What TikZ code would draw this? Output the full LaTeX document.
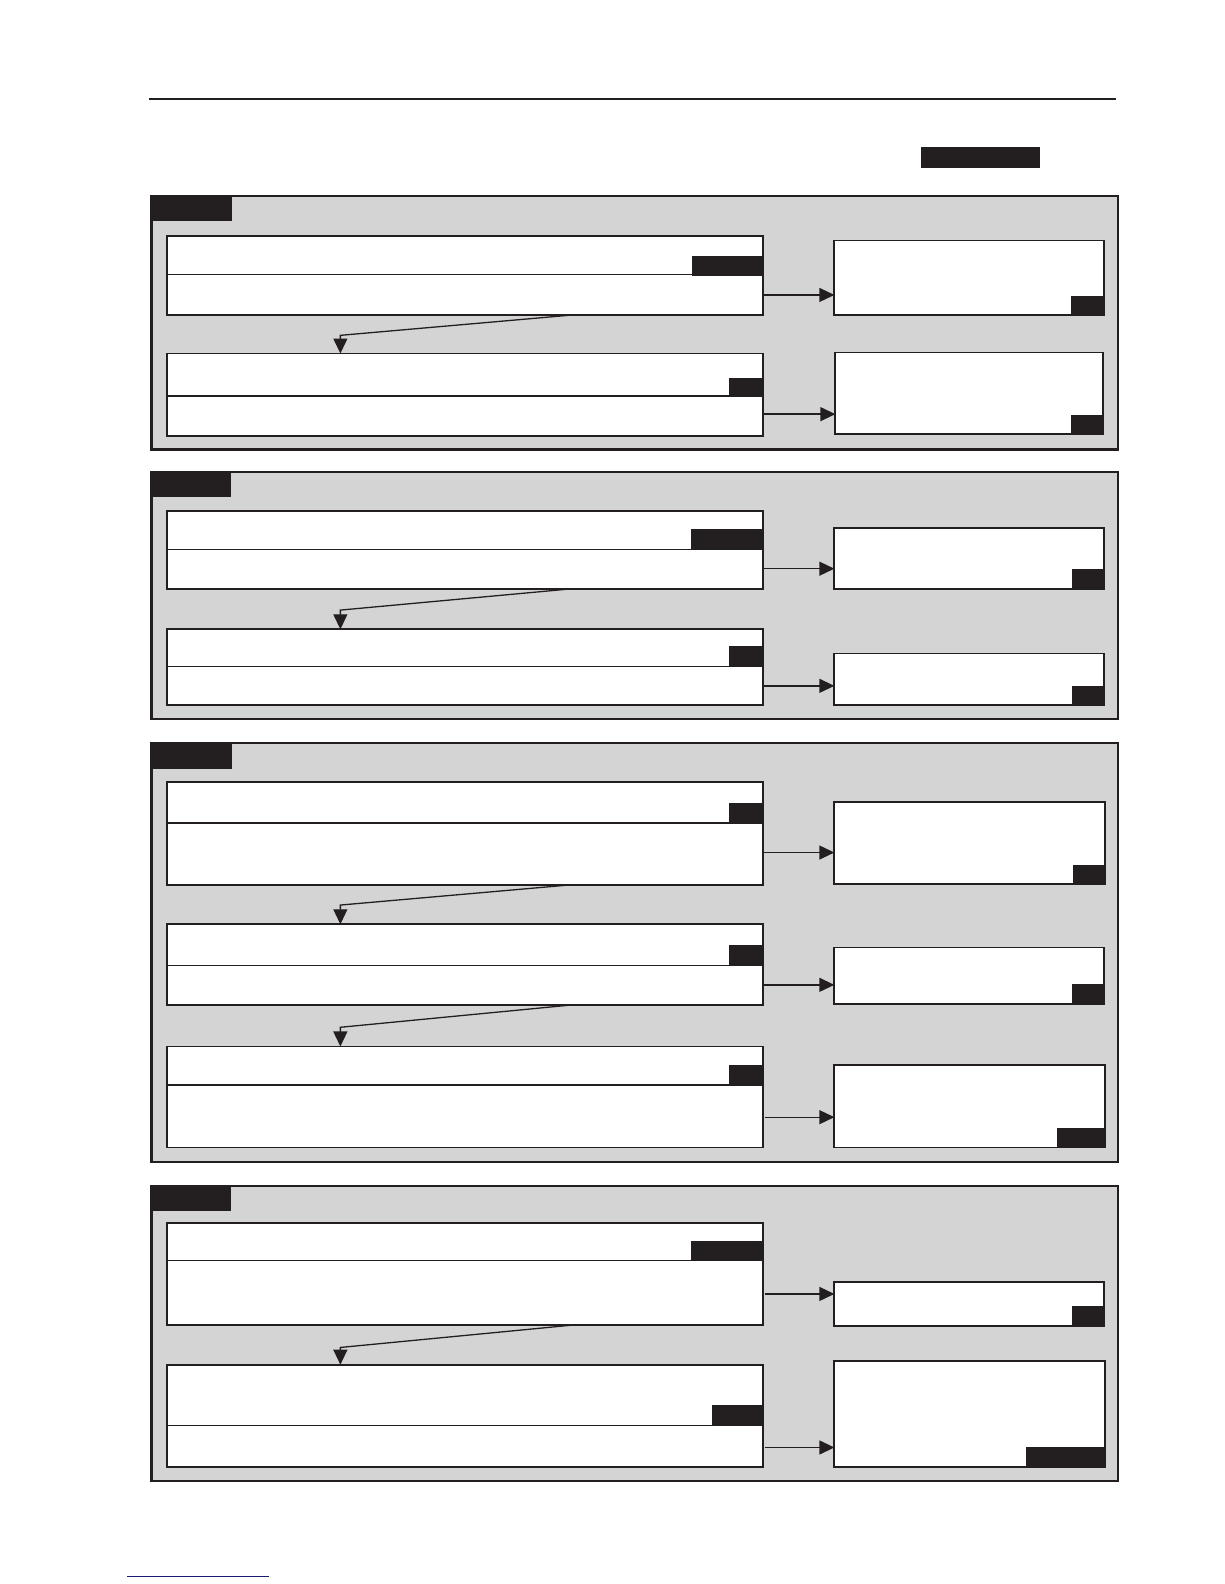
\documentclass[tikz,border=0pt]{standalone}
\usetikzlibrary{arrows.meta}
\definecolor{ink}{HTML}{231F20}
\definecolor{panelgray}{HTML}{D4D4D4}
\definecolor{linkblue}{HTML}{1A1A70}
\tikzset{
  panelbox/.style={draw=ink, fill=panelgray, line width=2.1pt, inner sep=0pt, outer sep=0pt},
  whitebox/.style={draw=ink, fill=white, line width=1.8pt, inner sep=0pt, outer sep=0pt},
  tagbox/.style={draw=none, fill=ink, inner sep=0pt, outer sep=0pt},
  divider/.style={draw=ink, line width=1.5pt},
  arr/.style={draw=ink, line width=1.3pt, -{Triangle[length=15pt,width=14pt]}},
}
% \mybox{style}{name}{x1}{y1}{x2}{y2}
\newcommand\mybox[6]{%
  \node[#1, minimum width={(#5-#3)*1.0101pt}, minimum height={(#6-#4)*1.0101pt}] (#2) at ({(#3+#5)/2},{(#4+#6)/2}) {};}
\begin{document}
\begin{tikzpicture}[x=1.0101pt,y=-1.0101pt]
\useasboundingbox[fill=white] (0,0) rectangle (1211.76,1568.16);
% header rule and tag
\coordinate (hruleL) at (148,98);
\coordinate (hruleR) at (1105,98);
\draw[ink, line width=1.1pt] (hruleL) -- (hruleR);
\mybox{tagbox}{toptag}{912}{146}{1030}{166}
% footer link line
\coordinate (linkL) at (126,1561);
\coordinate (linkR) at (266,1561);
\draw[linkblue, line width=1pt] (linkL) -- (linkR);

% ================= Panel 1 =================
\mybox{panelbox}{p1}{150}{194}{1107}{445}
\mybox{tagbox}{p1tab}{150}{194}{230}{219}
\mybox{whitebox}{p1l1}{165}{234}{755}{312}
\draw[divider] (p1l1.west |- 0,272) -- (p1l1.east |- 0,272);
\mybox{tagbox}{p1l1t}{685}{253}{755}{273}
\mybox{whitebox}{p1l2}{165}{350}{755}{432}
\draw[divider] (p1l2.west |- 0,392) -- (p1l2.east |- 0,392);
\mybox{tagbox}{p1l2t}{722}{374}{756}{393}
\mybox{whitebox}{p1r1}{826}{238}{1093}{312}
\mybox{tagbox}{p1r1t}{1060}{293}{1093}{312}
\mybox{whitebox}{p1r2}{827}{349}{1092}{430}
\mybox{tagbox}{p1r2t}{1060}{411}{1092}{430}
\draw[arr] (p1l1.east |- 0,292) -- (p1r1.west |- 0,292);
\draw[arr] (p1l2.east |- 0,410) -- (p1r2.west |- 0,410);
\draw[arr] ([xshift=404pt]p1l1.south west) -- ([xshift=173.7pt,yshift=18.2pt]p1l2.north west) -- ([xshift=173.7pt]p1l2.north west);

% ================= Panel 2 =================
\mybox{panelbox}{p2}{150}{467}{1107}{712}
\mybox{tagbox}{p2tab}{150}{467}{229}{492}
\mybox{whitebox}{p2l1}{165}{506}{755}{583}
\draw[divider] (p2l1.west |- 0,544) -- (p2l1.east |- 0,544);
\mybox{tagbox}{p2l1t}{684}{524}{755}{544}
\mybox{whitebox}{p2l2}{165}{623}{755}{698}
\draw[divider] (p2l2.west |- 0,660) -- (p2l2.east |- 0,660);
\mybox{tagbox}{p2l2t}{722}{640}{755}{660}
\mybox{whitebox}{p2r1}{826}{523}{1093}{583}
\mybox{tagbox}{p2r1t}{1061}{563}{1093}{583}
\mybox{whitebox}{p2r2}{826}{647}{1093}{698}
\mybox{tagbox}{p2r2t}{1061}{679}{1093}{698}
\draw[arr] (p2l1.east |- 0,563) -- (p2r1.west |- 0,563);
\draw[arr] (p2l2.east |- 0,679) -- (p2r2.west |- 0,679);
\draw[arr] ([xshift=404pt]p2l1.south west) -- ([xshift=173.7pt,yshift=19.2pt]p2l2.north west) -- ([xshift=173.7pt]p2l2.north west);

% ================= Panel 3 =================
\mybox{panelbox}{p3}{150}{736}{1107}{1150}
\mybox{tagbox}{p3tab}{150}{736}{230}{761}
\mybox{whitebox}{p3l1}{165}{774}{755}{876}
\draw[divider] (p3l1.west |- 0,815) -- (p3l1.east |- 0,815);
\mybox{tagbox}{p3l1t}{722}{795}{755}{815}
\mybox{whitebox}{p3l2}{165}{915}{755}{995}
\draw[divider] (p3l2.west |- 0,956) -- (p3l2.east |- 0,956);
\mybox{tagbox}{p3l2t}{722}{936}{755}{956}
\mybox{whitebox}{p3l3}{165}{1036}{755}{1136}
\draw[divider] (p3l3.west |- 0,1074) -- (p3l3.east |- 0,1074);
\mybox{tagbox}{p3l3t}{722}{1054}{755}{1074}
\mybox{whitebox}{p3r1}{826}{794}{1094}{875}
\mybox{tagbox}{p3r1t}{1062}{856}{1094}{875}
\mybox{whitebox}{p3r2}{826}{938}{1093}{994}
\mybox{tagbox}{p3r2t}{1061}{974}{1093}{994}
\mybox{whitebox}{p3r3}{826}{1054}{1094}{1136}
\mybox{tagbox}{p3r3t}{1046}{1117}{1094}{1136}
\draw[arr] (p3l1.east |- 0,844) -- (p3r1.west |- 0,844);
\draw[arr] (p3l2.east |- 0,975) -- (p3r2.west |- 0,975);
\draw[arr] ([xshift=2pt]p3l3.east |- 0,1106) -- (p3r3.west |- 0,1106);
\draw[arr] ([xshift=404pt]p3l1.south west) -- ([xshift=173.7pt,yshift=19.2pt]p3l2.north west) -- ([xshift=173.7pt]p3l2.north west);
\draw[arr] ([xshift=404pt]p3l2.south west) -- ([xshift=173.7pt,yshift=19.2pt]p3l3.north west) -- ([xshift=173.7pt]p3l3.north west);

% ================= Panel 4 =================
\mybox{panelbox}{p4}{150}{1174}{1107}{1466}
\mybox{tagbox}{p4tab}{150}{1174}{229}{1199}
\mybox{whitebox}{p4l1}{165}{1211}{755}{1312}
\draw[divider] (p4l1.west |- 0,1248) -- (p4l1.east |- 0,1248);
\mybox{tagbox}{p4l1t}{684}{1229}{755}{1248}
\mybox{whitebox}{p4l2}{165}{1351}{755}{1452}
\draw[divider] (p4l2.west |- 0,1411) -- (p4l2.east |- 0,1411);
\mybox{tagbox}{p4l2t}{705}{1391}{755}{1411}
\mybox{whitebox}{p4r1}{826}{1269}{1093}{1313}
\mybox{tagbox}{p4r1t}{1061}{1293}{1093}{1313}
\mybox{whitebox}{p4r2}{826}{1347}{1094}{1452}
\mybox{tagbox}{p4r2t}{1016}{1433}{1094}{1452}
\draw[arr] ([xshift=2pt]p4l1.east |- 0,1281) -- (p4r1.west |- 0,1281);
\draw[arr] ([xshift=2pt]p4l2.east |- 0,1433) -- (p4r2.west |- 0,1433);
\draw[arr] ([xshift=404pt]p4l1.south west) -- ([xshift=173.7pt,yshift=17.2pt]p4l2.north west) -- ([xshift=173.7pt]p4l2.north west);
\end{tikzpicture}
\end{document}
